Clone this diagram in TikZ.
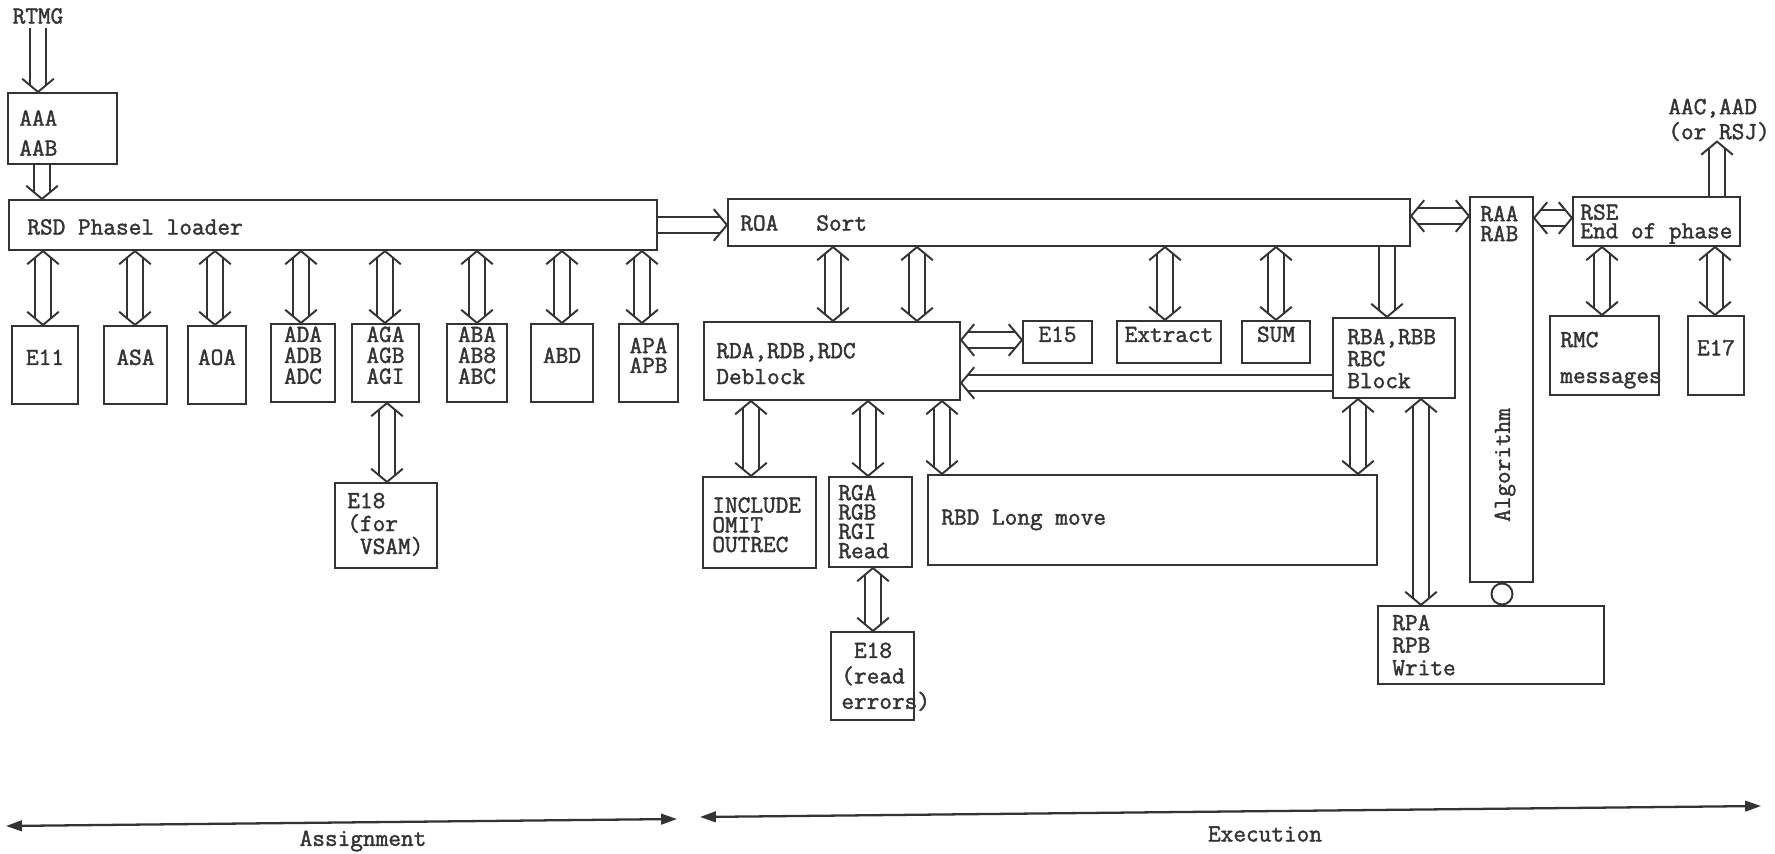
\documentclass[tikz,border=0pt]{standalone}
\usepackage{fontspec}
\setmonofont{Latin Modern Mono}[FakeBold=1.6]
\renewcommand{\familydefault}{\ttdefault}
\usetikzlibrary{arrows.meta,fit,decorations.markings}
\definecolor{ink}{HTML}{333333}
\tikzset{
  fs/.style={font=\fontsize{14}{#1}\selectfont},
  fs/.default=11.9,
  box/.style={draw=ink, line width=1.2pt, inner sep=0pt, align=center, text=ink, fs},
  txt/.style={inner sep=0pt, align=left, text=ink, anchor=north west, fs},
  shaftSE/.style={postaction={draw=ink, line width=1.1pt, double=white, double distance=7.5pt, shorten <=3.4pt, shorten >=3.4pt}},
  shaftE/.style={postaction={draw=ink, line width=1.1pt, double=white, double distance=7.5pt, shorten >=3.4pt}},
  headE/.style={postaction={decorate, decoration={markings, mark=at position 0.9999 with
      {\draw[ink, line width=1.1pt] (-7.5pt,9pt) -- (0pt,0pt) -- (-7.5pt,-9pt);}}}},
  headS/.style={postaction={decorate, decoration={markings, mark=at position 0.0001 with
      {\draw[ink, line width=1.1pt] (7.5pt,9pt) -- (0pt,0pt) -- (7.5pt,-9pt);}}}},
  dbl/.style={shaftSE, headS, headE},
  uni/.style={shaftE, headE},
  axis/.style={draw=ink, line width=1.3pt, {Triangle[length=9pt,width=6pt]}-{Triangle[length=9pt,width=6pt]}},
}
\begin{document}
\begin{tikzpicture}[x=0.02cm,y=-0.02cm]
\useasboundingbox (0,0) rectangle (1775,854);
\fill[white] (0,0) rectangle (1775,854);

% ---------------- Assignment side ----------------
\node[text=ink, fs, inner sep=2pt] (rtmg) at (38,16) {RTMG};
\node[box, fit={(8,93) (117,164)}] (aaa) {};
\node[txt, fs=17] (taaa) at (19,110) {AAA\\AAB};
\node[box, fit={(9,200) (657,250)}] (rsd) {};
\node[txt, anchor=west] (trsd) at (27,227) {RSD Phasel loader};

\node[box, fit={(12,326) (78,404)}] (e11) {E11};
\node[box, fit={(104,326) (167,404)}] (asa) {ASA};
\node[box, fit={(188,326) (246,404)}] (aoa) {AOA};
\node[box, fit={(271,324) (335,402)}] (ada) {ADA\\ADB\\ADC};
\node[box, fit={(352,324) (419,402)}] (aga) {AGA\\AGB\\AGI};
\node[box, fit={(447,324) (507,402)}] (aba) {ABA\\AB8\\ABC};
\node[box, fit={(531,324) (593,402)}] (abd) {ABD};
\node[box, fit={(619,324) (678,402)}, fs=11.3] (apa) {APA\\APB};

\node[box, fit={(335,483) (437,568)}] (e18a) {};
\node[txt, fs=13] (te18a) at (347,492.5) {E18\\(for\\\phantom{(}VSAM)};

% ---------------- Execution side ----------------
\node[box, fit={(728,199) (1410,246)}] (roa) {};
\node[txt, anchor=west] (troa) at (740,223) {ROA\ \ \ Sort};

\node[box, fit={(704,322) (960,400)}] (deb) {};
\node[txt, fs=14.7] (tdeb) at (716,342.5) {RDA,RDB,RDC\\Deblock};

\node[box, fit={(1023,321) (1092,363)}] (e15) {E15};
\node[box, fit={(1117,321) (1221,363)}] (extract) {Extract};
\node[box, fit={(1242,321) (1310,363)}] (sum) {SUM};

\node[box, fit={(1333,318) (1455,398)}] (blk) {};
\node[txt, fs=12.5] (tblk) at (1347,328.5) {RBA,RBB\\RBC\\Block};

\node[box, fit={(703,477) (816,568)}] (incl) {};
\node[txt, fs=11.2] (tincl) at (712,497) {INCLUDE\\OMIT\\OUTREC};

\node[box, fit={(829,477) (912,567)}] (rga) {};
\node[txt, fs=11] (trga) at (838,484.5) {RGA\\RGB\\RGI\\Read};

\node[box, fit={(928,475) (1377,565)}] (rbd) {};
\node[txt, anchor=west] (trbd) at (941,520) {RBD Long move};

\node[box, fit={(831,632) (914,720)}] (e18b) {};
\node[txt, fs=14.5] (te18b) at (841,640.5) {\phantom{(}E18\\(read\\errors)};

\node[box, fit={(1470,197) (1533,582)}] (alg) {};
\node[txt, fs=11.3] (talgtop) at (1480,205.5) {RAA\\RAB};
\node[rotate=90, text=ink, fs, inner sep=0pt] (talg) at (1505,465) {Algorithm};

\node[draw=ink, line width=1.1pt, circle, inner sep=0pt, minimum size=0.42cm, fill=white] (con) at (1502,594) {};

\node[box, fit={(1378,606) (1604,684)}] (rpa) {};
\node[txt, fs=12.8] (trpa) at (1392,614.5) {RPA\\RPB\\Write};

\node[box, fit={(1573,197) (1740,246)}] (rse) {};
\node[txt, fs=10.6] (trse) at (1580,204) {RSE\\End of phase};

\node[box, fit={(1550,316) (1659,395)}] (rmc) {};
\node[txt, fs=20.4] (trmc) at (1560,331.5) {RMC\\messages};

\node[box, fit={(1688,316) (1744,395)}] (e17) {E17};

\node[txt, fs=14.2] (aac) at (1668,98.5) {AAC,AAD\\(or RSJ)};

% ---------------- connectors ----------------
\path[uni] (38,0 |- rtmg.south) -- (38,0 |- aaa.north);
\path[uni] (42,0 |- aaa.south) -- (42,0 |- rsd.north);
\path[uni] (rsd.east |- 0,225) -- (roa.west |- 0,225);
\foreach \x/\n in {43/e11,135/asa,215/aoa,301/ada,385/aga,477/aba,562/abd,642/apa}
  \path[dbl] (\x,0 |- rsd.south) -- (\x,0 |- \n.north);
\path[dbl] (387,0 |- aga.south) -- (387,0 |- e18a.north);

\path[dbl] (833,0 |- roa.south) -- (833,0 |- deb.north);
\path[dbl] (917,0 |- roa.south) -- (917,0 |- deb.north);
\path[dbl] (1165,0 |- roa.south) -- (1165,0 |- extract.north);
\path[dbl] (1276,0 |- roa.south) -- (1276,0 |- sum.north);
\path[uni] (1387,0 |- roa.south) -- (1387,0 |- blk.north);
\path[dbl] (deb.east |- 0,340) -- (e15.west |- 0,340);
\path[uni] (blk.west |- 0,383) -- (deb.east |- 0,383);
\path[dbl] (751,0 |- deb.south) -- (751,0 |- incl.north);
\path[dbl] (868,0 |- deb.south) -- (868,0 |- rga.north);
\path[dbl] (942,0 |- deb.south) -- (942,0 |- rbd.north);
\path[dbl] (873,0 |- rga.south) -- (873,0 |- e18b.north);
\path[dbl] (1358,0 |- blk.south) -- (1358,0 |- rbd.north);
\path[dbl] (1421,0 |- blk.south) -- (1421,0 |- rpa.north);
\path[dbl] (roa.east |- 0,216) -- (alg.west |- 0,216);
\path[dbl] (alg.east |- 0,218) -- (rse.west |- 0,218);
\path[uni] (1717,0 |- rse.north) -- (1717,0 |- aac.south);
\path[dbl] (1602,0 |- rse.south) -- (1602,0 |- rmc.north);
\path[dbl] (1715,0 |- rse.south) -- (1715,0 |- e17.north);

% ---------------- phase axis ----------------
\coordinate (a1) at (6,826);
\coordinate (a2) at (677,819);
\coordinate (x1) at (700,817);
\coordinate (x2) at (1761,806);
\draw[axis] (a1) -- (a2);
\draw[axis] (x1) -- (x2);
\node[text=ink, fs, inner sep=0pt] (lassign) at (363,841) {Assignment};
\node[text=ink, fs, inner sep=0pt] (lexec) at (1265,834) {Execution};
\end{tikzpicture}
\end{document}
